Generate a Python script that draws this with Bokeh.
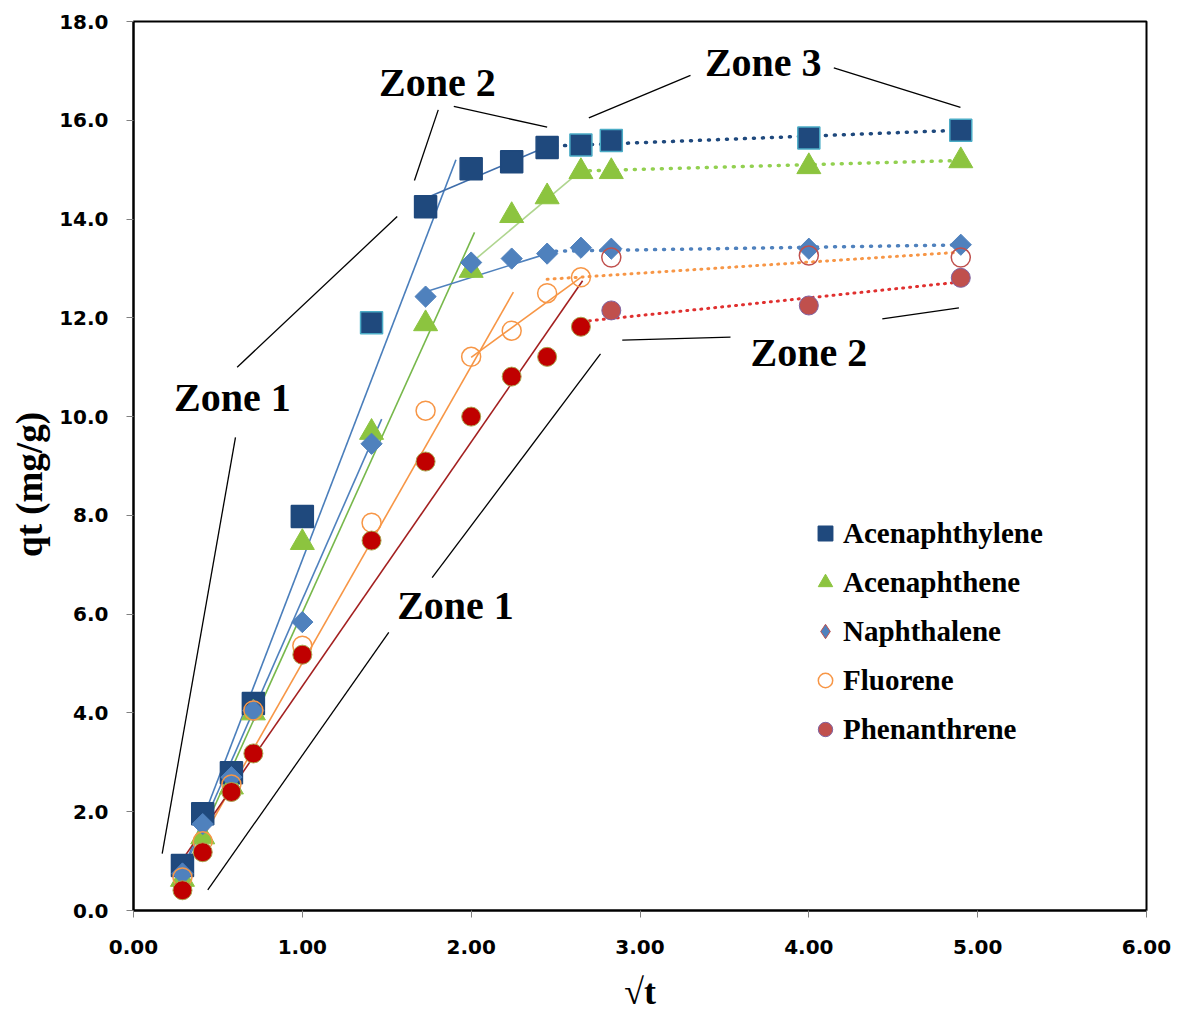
from bokeh.plotting import figure
from bokeh.models import (Range1d, FixedTicker, PrintfTickFormatter, Legend,
                          LegendItem, ColumnDataSource)
from bokeh.embed import file_html
from bokeh.resources import INLINE
from bokeh.core.properties import value

# ---------------- data ----------------
sqrt_t = [0.29, 0.41, 0.58, 0.71, 1.00, 1.41, 1.73, 2.00, 2.24, 2.45, 2.65, 2.83, 4.00, 4.90]

acenaphthylene = [0.91, 1.96, 2.79, 4.19, 7.98, 11.90, 14.25, 15.02, 15.16, 15.45, 15.50, 15.59, 15.64, 15.80]
acenaphthene   = [0.63, 1.49, 2.50, 4.00, 7.45, 9.68, 11.88, 12.96, 14.07, 14.45, 14.96, 14.96, 15.06, 15.18]
naphthalene    = [0.75, 1.75, 2.70, 4.05, 5.84, 9.45, 12.43, 13.12, 13.20, 13.30, 13.42, 13.40, 13.40, 13.48]
fluorene       = [0.67, 1.40, 2.55, 4.05, 5.36, 7.85, 10.12, 11.21, 11.74, 12.50, 12.82, 13.22, 13.26, 13.22]
phenanthrene   = [0.41, 1.18, 2.40, 3.18, 5.18, 7.49, 9.09, 10.00, 10.81, 11.21, 11.82, 12.15, 12.25, 12.81]

# trend lines (x ends, y ends)
acy_z1_x, acy_z1_y = [0.30, 1.91], [0.87, 15.20]
acy_z2_x, acy_z2_y = [1.73, 2.45], [14.42, 15.47]
acy_z3_x, acy_z3_y = [2.50, 4.90], [15.48, 15.80]

ace_z1_x, ace_z1_y = [0.30, 2.02], [0.75, 13.73]
ace_z2_x, ace_z2_y = [2.03, 2.65], [13.20, 14.98]
ace_z3_x, ace_z3_y = [2.70, 4.85], [14.98, 15.18]

nap_z1_x, nap_z1_y = [0.30, 1.47], [0.85, 9.95]
nap_z2_x, nap_z2_y = [1.75, 2.45], [12.55, 13.30]
nap_z3_x, nap_z3_y = [2.50, 4.95], [13.35, 13.48]

flu_z1_x, flu_z1_y = [0.30, 2.25], [0.81, 12.52]
flu_z2_x, flu_z2_y = [2.00, 2.65], [11.20, 12.82]
flu_z3_x, flu_z3_y = [2.45, 4.90], [12.78, 13.33]

phe_z1_x, phe_z1_y = [0.30, 2.66], [1.08, 12.75]
phe_z3_x, phe_z3_y = [2.70, 4.88], [11.94, 12.72]

# zone annotations
zone_text = ["Zone 1", "Zone 2", "Zone 3", "Zone 2", "Zone 1"]
zone_x = [0.586, 1.80, 3.73, 4.00, 1.907]
zone_y = [10.39, 16.76, 17.17, 11.30, 6.18]

ptr_x0 = [0.614, 0.604, 1.805, 1.897, 2.697, 4.148, 2.895, 4.435, 1.769, 1.512]
ptr_y0 = [11.00, 9.58, 16.21, 16.28, 16.05, 17.06, 11.55, 11.98, 6.74, 5.63]
ptr_x1 = [1.562, 0.170, 1.664, 2.450, 3.299, 4.898, 3.536, 4.889, 2.766, 0.440]
ptr_y1 = [14.05, 1.15, 14.78, 15.86, 16.91, 16.26, 11.61, 12.20, 11.27, 0.42]

x_ticks = [0, 1, 2, 3, 4, 5, 6]
y_ticks = [0, 2, 4, 6, 8, 10, 12, 14, 16, 18]

# ---------------- figure ----------------
p = figure(width=1185, height=1021, output_backend="svg", toolbar_location=None,
           x_range=Range1d(0, 6), y_range=Range1d(0, 18),
           min_border_left=133, min_border_right=39, min_border_top=21,
           min_border_bottom=111)
p.background_fill_color = "white"
p.border_fill_color = "white"
p.outline_line_color = "black"
p.outline_line_width = 2
p.grid.visible = False

TICK_FONT = "DejaVu Sans"
for ax in (p.xaxis[0], p.yaxis[0]):
    ax.axis_line_color = "black"
    ax.axis_line_width = 2
    ax.major_tick_line_color = "#808080"
    ax.major_tick_out = 7
    ax.major_tick_in = 0
    ax.minor_tick_line_color = None
    ax.major_label_text_font = TICK_FONT
    ax.major_label_text_font_style = "bold"
    ax.major_label_text_font_size = "20px"
    ax.major_label_text_color = "black"
    ax.axis_label_text_font = "Liberation Serif"
    ax.axis_label_text_font_style = "bold"
    ax.axis_label_text_color = "black"

p.xaxis[0].ticker = FixedTicker(ticks=x_ticks)
p.yaxis[0].ticker = FixedTicker(ticks=y_ticks)
p.xaxis[0].formatter = PrintfTickFormatter(format="%.2f")
p.yaxis[0].formatter = PrintfTickFormatter(format="%.1f")
p.xaxis[0].major_label_standoff = 22
p.yaxis[0].major_label_standoff = 18
p.xaxis[0].axis_label = "\u221At"
p.yaxis[0].axis_label = "qt (mg/g)\u00a0\u00a0\u00a0\u00a0"
p.xaxis[0].axis_label_text_font_size = "36px"
p.yaxis[0].axis_label_text_font_size = "37px"
p.xaxis[0].axis_label_standoff = 15
p.yaxis[0].axis_label_standoff = 6

# ---------------- annotation pointer lines ----------------
p.segment(x0=ptr_x0, y0=ptr_y0, x1=ptr_x1, y1=ptr_y1, line_color="black", line_width=1.3)

# ---------------- trend lines ----------------
solid = dict(line_width=1.6)
dot_big = dict(line_width=3.5, line_dash="1 8", line_cap="round")
dot_small = dict(line_width=3, line_dash="1 6", line_cap="round")

p.line(acy_z1_x, acy_z1_y, line_color="#4A7EBB", **solid)
p.line(ace_z1_x, ace_z1_y, line_color="#77B84B", **solid)
p.line(nap_z1_x, nap_z1_y, line_color="#4F81BD", **solid)
p.line(flu_z1_x, flu_z1_y, line_color="#F79646", **solid)
p.line(phe_z1_x, phe_z1_y, line_color="#A32020", **solid)

p.line(acy_z2_x, acy_z2_y, line_color="#3E6DAA", **solid)
p.line(ace_z2_x, ace_z2_y, line_color="#AFD58F", **solid)
p.line(nap_z2_x, nap_z2_y, line_color="#4F81BD", **solid)
p.line(flu_z2_x, flu_z2_y, line_color="#F79646", **solid)

p.line(acy_z3_x, acy_z3_y, line_color="#1F497D", **dot_big)
p.line(ace_z3_x, ace_z3_y, line_color="#92D050", **dot_big)
p.line(nap_z3_x, nap_z3_y, line_color="#4F81BD", **dot_big)
p.line(flu_z3_x, flu_z3_y, line_color="#F79646", **dot_small)
p.line(phe_z3_x, phe_z3_y, line_color="#E0302F", **dot_small)

# ---------------- markers ----------------
acy_src = ColumnDataSource(dict(
    x=sqrt_t, y=acenaphthylene,
    lc=["#1F497D"] * 5 + ["#4BACC6"] + ["#1F497D"] * 4 + ["#4BACC6"] * 4))
ace_src = ColumnDataSource(dict(x=sqrt_t, y=acenaphthene))
nap_src = ColumnDataSource(dict(x=sqrt_t, y=naphthalene))
flu_src = ColumnDataSource(dict(
    x=sqrt_t, y=fluorene, lc=["#F79646"] * 11 + ["#C0504D"] * 3))
phe_src = ColumnDataSource(dict(
    x=sqrt_t, y=phenanthrene,
    fc=["#C00000"] * 11 + ["#C0504D"] * 3,
    lc=["#A9A34E"] * 11 + ["#8064A2"] * 3))

r_acy = p.scatter("x", "y", source=acy_src, marker="square", size=22,
                  fill_color="#1F497D", line_color="lc", line_width=1.5)
r_ace = p.scatter("x", "y", source=ace_src, marker="triangle", size=24,
                  fill_color="#8CC43F", line_color="#8CC43F", line_width=1)
r_nap = p.scatter("x", "y", source=nap_src, marker="square", angle=0.7854, size=15,
                  fill_color="#4F81BD", line_color="#4F81BD", line_width=1)
r_flu = p.scatter("x", "y", source=flu_src, marker="circle", size=19,
                  fill_color=None, line_color="lc", line_width=1.5)
r_phe = p.scatter("x", "y", source=phe_src, marker="circle", size=19,
                  fill_color="fc", line_color="lc", line_width=1)

# legend-only glyph for the diamond key (no visible data point)
r_nap_key = p.scatter(x=[float("nan")], y=[float("nan")], marker="diamond", size=15,
                      fill_color="#4F81BD", line_color="#C0504D", line_width=1)

# ---------------- zone labels ----------------
p.text(x=zone_x, y=zone_y, text=zone_text, text_font=value("Liberation Serif"),
       text_font_style="bold", text_font_size="40px", text_color="black",
       text_align="center", text_baseline="middle")

# ---------------- legend ----------------
legend = Legend(items=[
    LegendItem(label="Acenaphthylene", renderers=[r_acy], index=7),
    LegendItem(label="Acenaphthene", renderers=[r_ace], index=7),
    LegendItem(label="Naphthalene", renderers=[r_nap_key], index=0),
    LegendItem(label="Fluorene", renderers=[r_flu], index=0),
    LegendItem(label="Phenanthrene", renderers=[r_phe], index=12),
], location=(674, 162), glyph_width=36, glyph_height=38, label_height=30,
    spacing=11, padding=0, margin=0, label_standoff=0,
    border_line_color=None, background_fill_alpha=0,
    label_text_font="Liberation Serif", label_text_font_style="bold",
    label_text_font_size="29px", label_text_color="black")
p.add_layout(legend)

open("out.html", "w").write(file_html(p, INLINE))
